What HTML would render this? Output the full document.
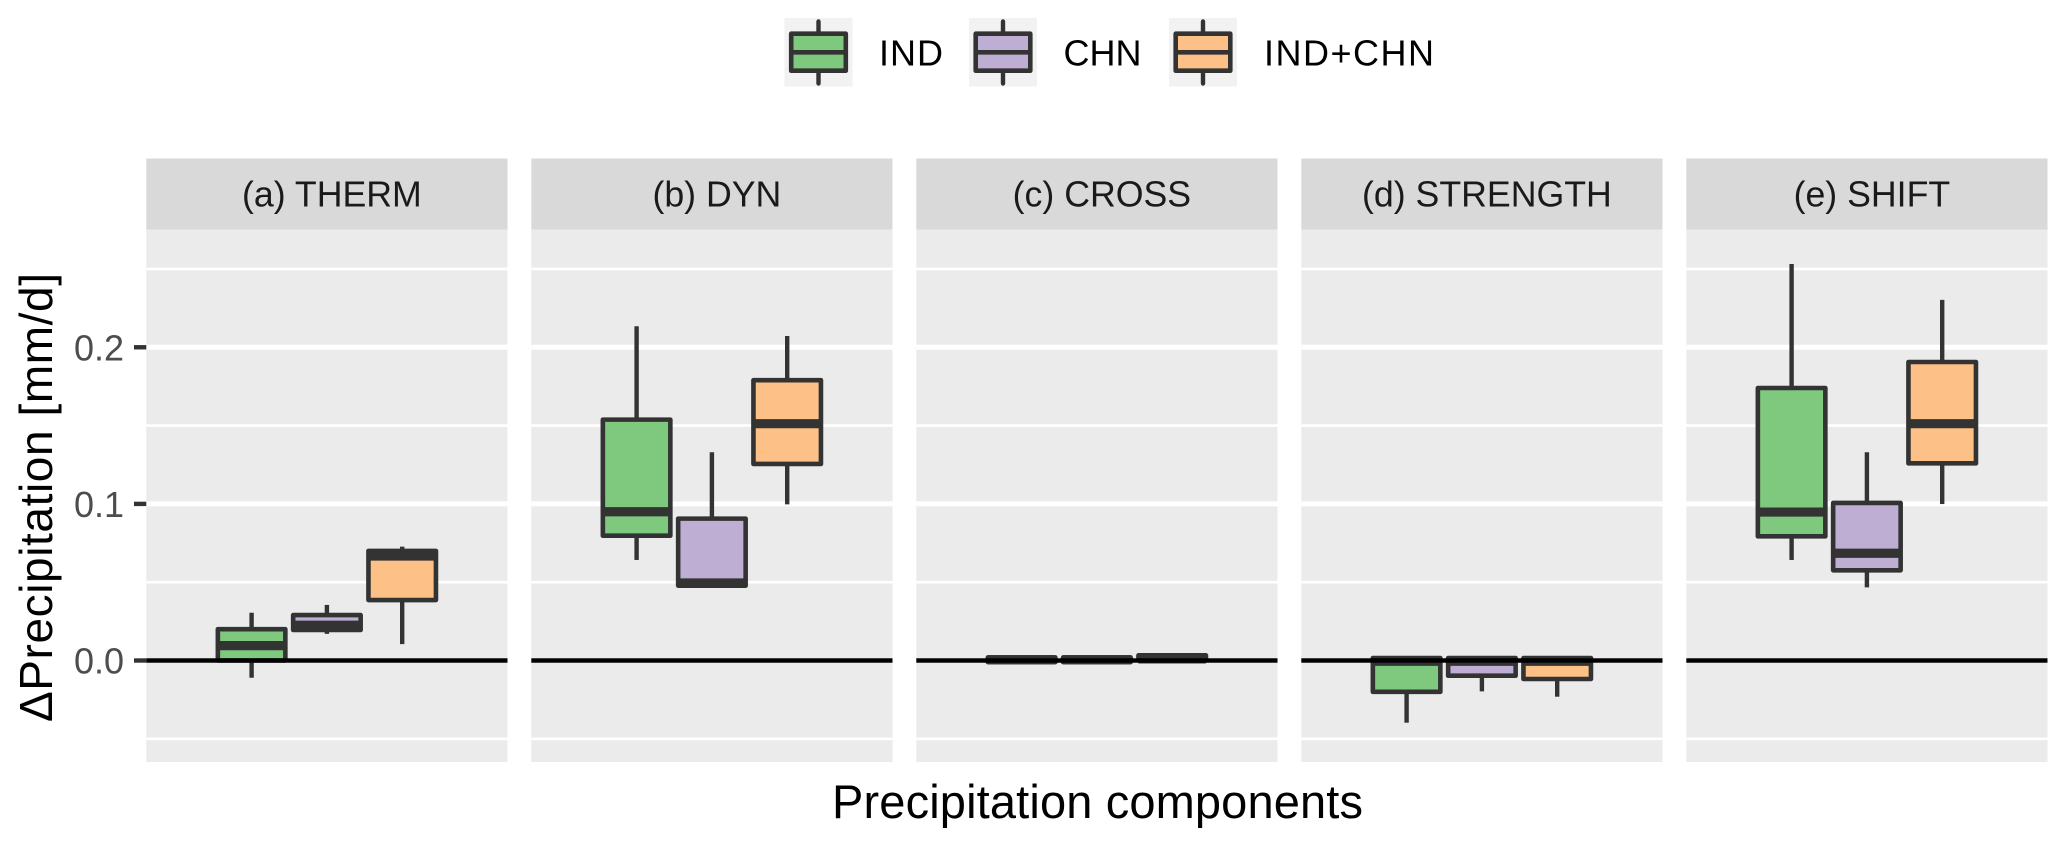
<!DOCTYPE html>
<html lang="en">
<head>
<meta charset="utf-8">
<title>Precipitation components box plot</title>
<style>
html,body{margin:0;padding:0;background:#fff;width:2067px;height:846px;overflow:hidden}
svg{display:block}
text{font-family:"Liberation Sans",Arial,sans-serif}
</style>
</head>
<body>
<svg id="chart" xmlns="http://www.w3.org/2000/svg" width="2067" height="846" viewBox="0 0 2067 846">
  <text transform="translate(52,722) rotate(-90)" font-size="46" fill="#000" textLength="449" lengthAdjust="spacing">ΔPrecipitation [mm/d]</text>
  <text x="832" y="818" font-size="47" fill="#000" textLength="531" lengthAdjust="spacing">Precipitation components</text>
</svg>
<script>
const panelTitles = ['(a) THERM', '(b) DYN', '(c) CROSS', '(d) STRENGTH', '(e) SHIFT'];
const seriesNames = ['IND', 'CHN', 'IND+CHN'];
const seriesColors = ['#7FC97F', '#BEAED4', '#FDC086'];

const yTickValues = [0, 0.1, 0.2];
const yTickLabels = ['0.0', '0.1', '0.2'];
const yMinorValues = [-0.05, 0.05, 0.15, 0.25];

const indLow    = [-0.011, 0.0642, -0.001, -0.0397, 0.0642];
const indQ1     = [0, 0.0797, -0.001, -0.02, 0.0793];
const indMedian = [0.0095, 0.095, 0.0005, -0.0005, 0.0948];
const indQ3     = [0.02, 0.1538, 0.002, 0.0016, 0.174];
const indHigh   = [0.0305, 0.2134, 0.002, 0.002, 0.2532];

const chnLow    = [0.017, 0.047, -0.001, -0.0197, 0.0467];
const chnQ1     = [0.0195, 0.0478, -0.001, -0.0097, 0.0576];
const chnMedian = [0.0225, 0.0495, 0.0005, -0.0005, 0.0685];
const chnQ3     = [0.029, 0.0906, 0.002, 0.0016, 0.1006];
const chnHigh   = [0.0355, 0.133, 0.002, 0.002, 0.133];

const comboLow    = [0.0105, 0.0997, 0, -0.0231, 0.0999];
const comboQ1     = [0.0386, 0.1255, 0, -0.0118, 0.1259];
const comboMedian = [0.0667, 0.1512, 0.001, -0.0005, 0.1512];
const comboQ3     = [0.07, 0.179, 0.0033, 0.0016, 0.1906];
const comboHigh   = [0.0727, 0.2072, 0.0033, 0.002, 0.2303];

const seriesLow = [indLow, chnLow, comboLow];
const seriesQ1 = [indQ1, chnQ1, comboQ1];
const seriesMedian = [indMedian, chnMedian, comboMedian];
const seriesQ3 = [indQ3, chnQ3, comboQ3];
const seriesHigh = [indHigh, chnHigh, comboHigh];

const svg = document.getElementById('chart');
const NS = 'http://www.w3.org/2000/svg';

const plotTop = 229.5;
const plotBottom = 762;
const stripTop = 158.5;
const panelLeftStart = 146.3;
const panelWidth = 361.2;
const panelStep = 385;
const dodge = 75.3;
const boxWidth = 67.5;

const yDomainMin = -0.0648;
const yDomainMax = 0.2752;
function yScale(v) {
  return plotBottom - (v - yDomainMin) / (yDomainMax - yDomainMin) * (plotBottom - plotTop);
}
function panelLeft(p) {
  return panelLeftStart + p * panelStep;
}
function seriesCenter(p, s) {
  return panelLeft(p) + panelWidth / 2 + (s - 1) * dodge;
}
function make(tag, attrs, text) {
  const el = document.createElementNS(NS, tag);
  for (const k in attrs) el.setAttribute(k, attrs[k]);
  if (text !== undefined) el.textContent = text;
  svg.appendChild(el);
  return el;
}

panelTitles.forEach(function (title, p) {
  const left = panelLeft(p);

  const strip = make('rect', {x: left, y: stripTop, width: panelWidth, height: plotTop - stripTop, fill: '#D9D9D9'});
  
  

  const stripLabel = make('text', {x: left + panelWidth / 2 + 5, y: 206.5, 'text-anchor': 'middle', 'font-size': 35.7, fill: '#1A1A1A'}, title);
  
  

  const bg = make('rect', {x: left, y: plotTop, width: panelWidth, height: plotBottom - plotTop, fill: '#EBEBEB'});
  
  

  yMinorValues.forEach(function (v) {
    const g = make('line', {x1: left, x2: left + panelWidth, y1: yScale(v), y2: yScale(v), stroke: '#fff', 'stroke-width': 2.6});
    
    
  });
  yTickValues.forEach(function (v) {
    const g = make('line', {x1: left, x2: left + panelWidth, y1: yScale(v), y2: yScale(v), stroke: '#fff', 'stroke-width': 5});
    
    
  });

  seriesNames.forEach(function (name, s) {
    const cx = seriesCenter(p, s);
    const low = seriesLow[s][p], q1 = seriesQ1[s][p], med = seriesMedian[s][p], q3 = seriesQ3[s][p], high = seriesHigh[s][p];

    const upper = make('line', {x1: cx, x2: cx, y1: yScale(high), y2: yScale(q3), stroke: '#333', 'stroke-width': 4.4});
    
    

    const lower = make('line', {x1: cx, x2: cx, y1: yScale(q1), y2: yScale(low), stroke: '#333', 'stroke-width': 4.4});
    
    

    const box = make('rect', {x: cx - boxWidth / 2, y: yScale(q3), width: boxWidth, height: yScale(q1) - yScale(q3), fill: seriesColors[s], stroke: '#333', 'stroke-width': 4.6, 'stroke-linejoin': 'round'});
    
    

    const median = make('line', {x1: cx - boxWidth / 2, x2: cx + boxWidth / 2, y1: yScale(med), y2: yScale(med), stroke: '#333', 'stroke-width': 9.2});
    
    
  });

  const zero = make('line', {x1: left, x2: left + panelWidth, y1: yScale(0), y2: yScale(0), stroke: '#000', 'stroke-width': 4.6});
  
  
});

yTickValues.forEach(function (v, i) {
  const tick = make('line', {x1: 134, x2: panelLeftStart, y1: yScale(v), y2: yScale(v), stroke: '#333', 'stroke-width': 4.4});
  
  

  const label = make('text', {x: 124, y: yScale(v) + 13, 'text-anchor': 'end', 'font-size': 36, fill: '#4D4D4D'}, yTickLabels[i]);
  
  
});

const legendKeyLeft = [784.5, 969, 1169];
const legendTextLeft = [879, 1063.5, 1264];
const legendTextWidth = [64, 78, 170];
seriesNames.forEach(function (name, s) {
  const kx = legendKeyLeft[s];
  const cx = kx + 34;

  const key = make('rect', {x: kx, y: 18, width: 68, height: 68.5, fill: '#F2F2F2'});
  
  

  const whisker = make('line', {x1: cx, x2: cx, y1: 21.5, y2: 83.5, stroke: '#333', 'stroke-width': 4.4, 'stroke-linecap': 'round'});
  
  

  const box = make('rect', {x: cx - 27.3, y: 33.7, width: 54.6, height: 37, fill: seriesColors[s], stroke: '#333', 'stroke-width': 4.6, 'stroke-linejoin': 'round'});
  
  

  const median = make('line', {x1: cx - 27.3, x2: cx + 27.3, y1: 52.3, y2: 52.3, stroke: '#333', 'stroke-width': 4.6});
  
  

  const label = make('text', {x: legendTextLeft[s], y: 65.5, 'font-size': 36, fill: '#000', textLength: legendTextWidth[s], lengthAdjust: 'spacing'}, name);
  
  
});
</script>
</body>
</html>
